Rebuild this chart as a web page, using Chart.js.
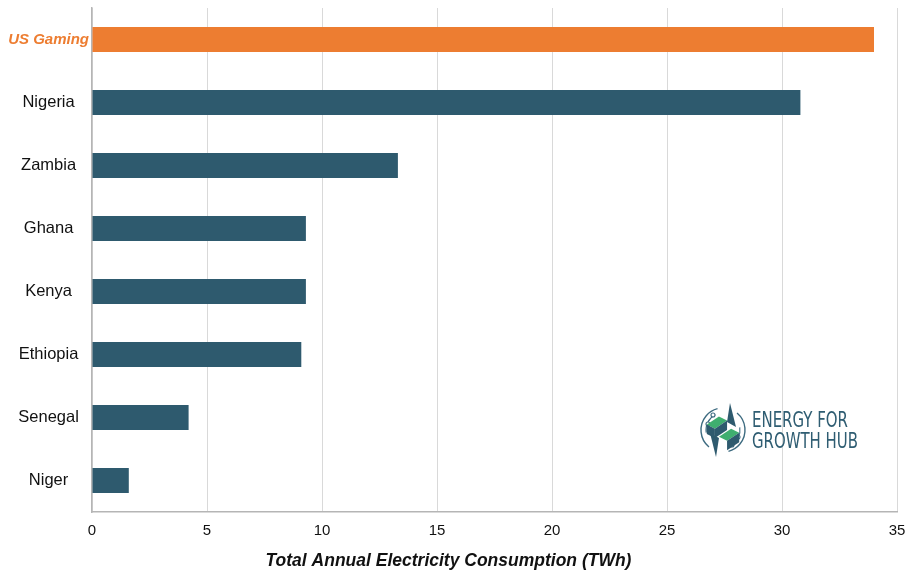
<!DOCTYPE html>
<html>
<head>
<meta charset="utf-8">
<script src="https://cdn.jsdelivr.net/npm/chart.js@4"></script>
<style>
  html, body { margin: 0; padding: 0; background: #ffffff; }
  #wrap { width: 907px; height: 573px; }
</style>
</head>
<body>
<div id="wrap"><canvas id="c" width="907" height="573"></canvas></div>
<script>
// Annual electricity use, TWh
const categories = ['US Gaming', 'Nigeria', 'Zambia', 'Ghana', 'Kenya', 'Ethiopia', 'Senegal', 'Niger'];
const consumptionTWh = [34, 30.8, 13.3, 9.3, 9.3, 9.1, 4.2, 1.6];
const xTicks = [0, 5, 10, 15, 20, 25, 30, 35];
const highlight = 'US Gaming';

const ORANGE = '#ED7D31';
const TEAL = '#2E5A6E';
const FONT = '"Liberation Sans", Arial, sans-serif';

// Energy for Growth Hub mark, bottom right of the plot
const logoPlugin = {
  id: 'logo',
  afterDraw(chart) {
    const ctx = chart.ctx;
    ctx.save();
    const cx = 723, cy = 430;
    // orbit ring
    ctx.strokeStyle = '#3d6b80';
    ctx.lineWidth = 1.4;
    ctx.beginPath(); ctx.arc(cx, cy, 22, Math.PI * 0.72, Math.PI * 1.42); ctx.stroke();
    ctx.beginPath(); ctx.arc(cx, cy, 22, -Math.PI * 0.28, Math.PI * 0.42); ctx.stroke();
    ctx.lineWidth = 1.1;
    ctx.beginPath(); ctx.arc(cx, cy, 17, Math.PI * 0.95, Math.PI * 1.35); ctx.stroke();
    ctx.beginPath(); ctx.arc(cx, cy, 17, -Math.PI * 0.05, Math.PI * 0.35); ctx.stroke();
    // nodes
    ctx.fillStyle = '#ffffff';
    [[cx - 10, cy - 15], [cx - 15, cy - 6], [cx + 15, cy + 7], [cx + 9, cy + 15]].forEach(p => {
      ctx.beginPath(); ctx.arc(p[0], p[1], 2, 0, Math.PI * 2); ctx.fill(); ctx.stroke();
    });
    // upper spike
    ctx.fillStyle = TEAL;
    ctx.beginPath();
    ctx.moveTo(cx + 7, cy - 27);
    ctx.lineTo(cx + 13, cy - 3);
    ctx.lineTo(cx + 4, cy - 8);
    ctx.closePath(); ctx.fill();
    // lower spike
    ctx.beginPath();
    ctx.moveTo(cx - 7, cy + 27);
    ctx.lineTo(cx - 13, cy + 3);
    ctx.lineTo(cx - 4, cy + 8);
    ctx.closePath(); ctx.fill();
    // stepped block: green tops, dark fronts
    const s = 1.35;
    const poly = (pts, color) => {
      ctx.fillStyle = color;
      ctx.beginPath();
      pts.forEach((p, i) => {
        const x = cx + p[0] * s, y = cy + p[1] * s;
        if (i === 0) ctx.moveTo(x, y); else ctx.lineTo(x, y);
      });
      ctx.closePath(); ctx.fill();
    };
    poly([[-12, -4], [-3, -10], [3, -7], [-6, -1]], '#3fae6f');
    poly([[-3, 5], [6, -1], [12, 2], [3, 8]], '#3fae6f');
    poly([[-6, -1], [3, -7], [3, 0], [-6, 6]], TEAL);
    poly([[-12, -4], [-6, -1], [-6, 6], [-12, 3]], TEAL);
    poly([[3, 8], [12, 2], [12, 9], [3, 15]], TEAL);
    // wordmark
    ctx.fillStyle = '#2f5d72';
    ctx.textBaseline = 'alphabetic';
    ctx.textAlign = 'left';
    ctx.font = '21px "Liberation Sans Narrow", "DejaVu Sans Condensed", "Liberation Sans", sans-serif';
    ctx.fillText('ENERGY FOR', 752, 427, 96);
    ctx.fillText('GROWTH HUB', 752, 448, 106);
    ctx.restore();
  }
};

new Chart(document.getElementById('c'), {
  type: 'bar',
  data: {
    labels: categories,
    datasets: [{
      data: consumptionTWh,
      backgroundColor: categories.map(c => c === highlight ? ORANGE : TEAL),
      borderWidth: 0,
      barPercentage: 0.4,
      categoryPercentage: 1.0
    }]
  },
  options: {
    indexAxis: 'y',
    responsive: false,
    animation: false,
    devicePixelRatio: 1,
    layout: { padding: { top: 8, right: 10, left: 0, bottom: 1 } },
    plugins: {
      legend: { display: false },
      tooltip: { enabled: false },
      title: {
        display: true,
        position: 'bottom',
        text: 'Total Annual Electricity Consumption (TWh)',
        color: '#111111',
        font: { family: FONT, size: 17.5, weight: 'bold', style: 'italic' },
        padding: { top: 10, bottom: 0 }
      }
    },
    scales: {
      x: {
        min: 0,
        max: 35,
        afterBuildTicks(scale) { scale.ticks = xTicks.map(v => ({ value: v })); },
        afterFit(scale) { scale.height = 29; scale.paddingLeft = 0; scale.paddingRight = 0; },
        grid: { color: '#d9d9d9', lineWidth: 1, drawTicks: false },
        border: { color: '#b5b5b5', width: 1.5 },
        ticks: {
          color: '#111111',
          padding: 10,
          font: { family: FONT, size: 15 }
        }
      },
      y: {
        afterFit(scale) { scale.width = 92; scale.paddingTop = 0; scale.paddingBottom = 0; },
        grid: { display: false, drawTicks: false },
        border: { color: '#b5b5b5', width: 1.5 },
        ticks: {
          crossAlign: 'center',
          padding: 3,
          color: ctx => categories[ctx.index] === highlight ? ORANGE : '#111111',
          font: ctx => categories[ctx.index] === highlight
            ? { family: FONT, size: 15, weight: 'bold', style: 'italic' }
            : { family: FONT, size: 16.5 }
        }
      }
    }
  },
  plugins: [logoPlugin]
});
</script>
</body>
</html>
